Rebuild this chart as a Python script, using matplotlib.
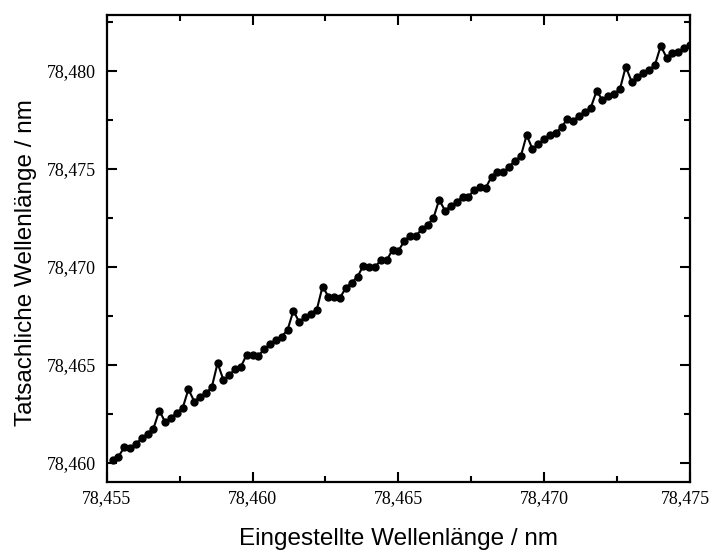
import numpy as np
import matplotlib.pyplot as plt
from matplotlib.ticker import MultipleLocator, FuncFormatter

# set wavelength: 100 steps of 0.0002 nm
x_start = 78.4552
x_step = 0.0002

y_meas = [
    78.46015, 78.46032, 78.46080, 78.46075, 78.46097, 78.46126, 78.46148, 78.46175, 78.46267, 78.46209,
    78.46228, 78.46257, 78.46279, 78.46376, 78.46313, 78.46338, 78.46356, 78.46386, 78.46509, 78.46423,
    78.46447, 78.46480, 78.46491, 78.46553, 78.46550, 78.46546, 78.46582, 78.46606, 78.46628, 78.46644,
    78.46679, 78.46777, 78.46718, 78.46746, 78.46762, 78.46781, 78.46900, 78.46849, 78.46845, 78.46843,
    78.46894, 78.46920, 78.46950, 78.47007, 78.47000, 78.46998, 78.47036, 78.47034, 78.47088, 78.47082,
    78.47131, 78.47160, 78.47158, 78.47192, 78.47214, 78.47248, 78.47343, 78.47287, 78.47311, 78.47332,
    78.47357, 78.47357, 78.47394, 78.47407, 78.47405, 78.47461, 78.47485, 78.47483, 78.47512, 78.47542,
    78.47565, 78.47673, 78.47601, 78.47628, 78.47652, 78.47673, 78.47685, 78.47713, 78.47757, 78.47746,
    78.47772, 78.47792, 78.47813, 78.47898, 78.47852, 78.47872, 78.47883, 78.47908, 78.48022, 78.47945,
    78.47968, 78.47991, 78.48005, 78.48031, 78.48128, 78.48068, 78.48090, 78.48095, 78.48116, 78.48133,
]
x_set = x_start + x_step * np.arange(len(y_meas))
x_min, x_max = 78.455, 78.475

fig = plt.figure(figsize=(7.12, 5.52), dpi=100)
ax = fig.add_axes([0.150, 0.127, 0.819, 0.846])

ax.plot(x_set, y_meas, '-o', color='black', lw=1.5, ms=5, clip_on=True)

ax.set_xlim(x_min, x_max)
ax.set_ylim(78.45903, 78.48286)

ax.xaxis.set_major_locator(MultipleLocator(0.005))
ax.xaxis.set_minor_locator(MultipleLocator(0.0025))
ax.yaxis.set_major_locator(MultipleLocator(0.005))
ax.yaxis.set_minor_locator(MultipleLocator(0.0025))

def comma(v, p):
    return f'{v:.3f}'.replace('.', ',')

# last x label is placed by hand a bit to the left so it stays inside the figure
ax.xaxis.set_major_formatter(FuncFormatter(lambda v, p: '' if abs(v - x_max) < 1e-9 else comma(v, p)))
ax.yaxis.set_major_formatter(FuncFormatter(comma))

ax.tick_params(which='both', direction='in', top=True, right=True, width=1.5,
               labelsize=13, labelfontfamily='Liberation Serif')
ax.tick_params(which='major', length=7)
ax.tick_params(which='minor', length=4.5)
ax.tick_params(axis='x', pad=6)
ax.tick_params(axis='y', pad=8)

ax.annotate(comma(x_max, None), xy=(x_max, 0), xycoords=('data', 'axes fraction'),
            xytext=(-3.5, -6), textcoords='offset points', ha='center', va='top',
            family='Liberation Serif', fontsize=13)

for s in ax.spines.values():
    s.set_linewidth(1.6)

ax.set_xlabel('Eingestellte Wellenlänge / nm', family='Liberation Sans', fontsize=17.5, labelpad=15)
ax.set_ylabel('Tatsachliche Wellenlänge / nm', family='Liberation Sans', fontsize=17.5)
ax.yaxis.set_label_coords(-0.12, 0.47)

fig.savefig('out.png', dpi=100)
